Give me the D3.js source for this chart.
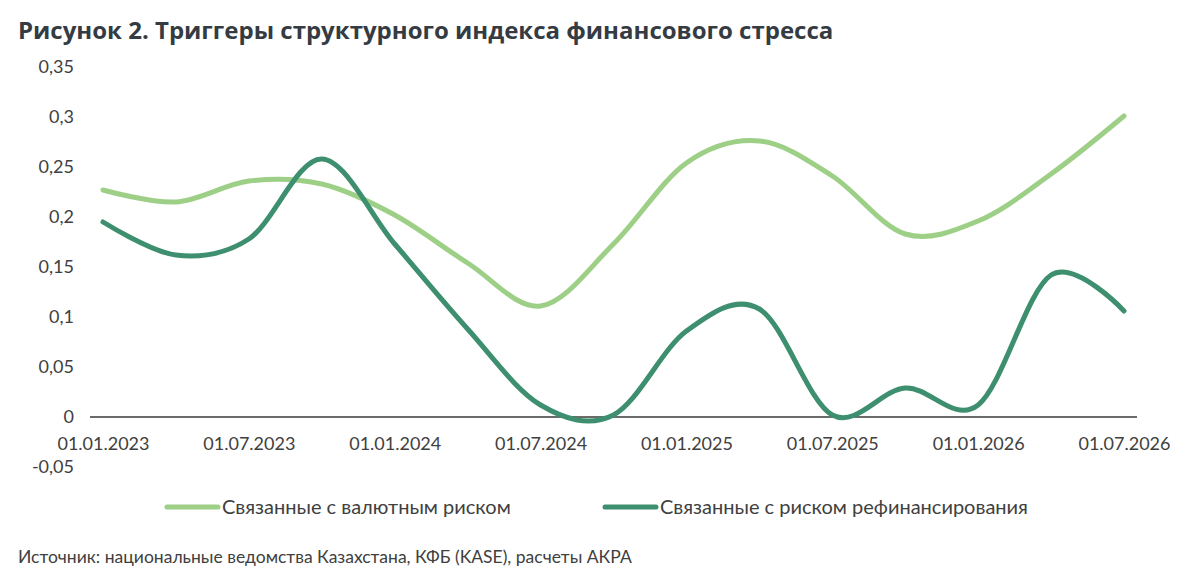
<!DOCTYPE html>
<html lang="ru">
<head>
<meta charset="utf-8">
<title>Рисунок 2</title>
<script src="https://d3js.org/d3.v7.min.js"></script>
<style>
  body { margin: 0; background: #fff; }
  text { font-family: Lato, "Open Sans", sans-serif; fill: #404040; }
  .title { font-family: "Open Sans", sans-serif; font-weight: 700; fill: #353b42; }
  .axis path, .axis line { display: none; }
  .series { fill: none; stroke-width: 5px; stroke-linecap: round; }
</style>
</head>
<body>
<div id="chart"></div>
<script>
// quarterly points, 01.01.2023 .. 01.07.2026
var dates = ["01.01.2023","01.04.2023","01.07.2023","01.10.2023","01.01.2024","01.04.2024","01.07.2024","01.10.2024",
             "01.01.2025","01.04.2025","01.07.2025","01.10.2025","01.01.2026","01.04.2026","01.07.2026"];
var currencyRisk = [0.227,0.215,0.236,0.233,0.202,0.154,0.111,0.173,0.254,0.276,0.241,0.183,0.196,0.243,0.301];
var refinancingRisk = [0.195,0.162,0.178,0.258,0.173,0.088,0.012,0.002,0.086,0.108,0.002,0.029,0.012,0.142,0.106];
var yTicks = [-0.05,0,0.05,0.1,0.15,0.2,0.25,0.3,0.35];
var seriesNames = ["Связанные с валютным риском","Связанные с риском рефинансирования"];
var colors = ["#9dd086","#3e8f6f"];

var width = 1200, height = 585;
var svg = d3.select("#chart").append("svg")
    .attr("width", width)
    .attr("height", height);

svg.append("text").attr("class","title")
    .attr("x", 18).attr("y", 39)
    .style("font-size", "24px")
    .text("Рисунок 2. Триггеры структурного индекса финансового стресса");

var x = d3.scaleLinear().domain([0, dates.length - 1]).range([103, 1124]);
var y = d3.scaleLinear().domain([-0.05, 0.35]).range([467, 67]);
var fmt = function(d){ return String(+d.toFixed(2)).replace(".", ","); };

// y labels
svg.append("g").attr("class","axis")
    .attr("transform","translate(74,0)")
    .call(d3.axisLeft(y).tickValues(yTicks).tickSize(0).tickPadding(0).tickFormat(fmt))
    .selectAll("text").style("font-size","18px").attr("fill","#404040");

// zero line
svg.append("line")
    .attr("x1", 90).attr("x2", 1137)
    .attr("y1", y(0)).attr("y2", y(0))
    .attr("stroke", "#3a3a3a").attr("stroke-width", 1.5);

// x labels on every second quarter
svg.append("g").attr("class","axis")
    .attr("transform","translate(0," + (y(0) + 20) + ")")
    .call(d3.axisBottom(x).tickValues(d3.range(0, dates.length, 2)).tickSize(0).tickPadding(0)
        .tickFormat(function(i){ return dates[i]; }))
    .selectAll("text").style("font-size","18px").attr("fill","#404040");

var line = d3.line()
    .x(function(d, i){ return x(i); })
    .y(function(d){ return y(d); })
    .curve(d3.curveCardinal.tension(0));

[currencyRisk, refinancingRisk].forEach(function(s, k){
  svg.append("path").attr("class","series")
      .attr("d", line(s))
      .attr("stroke", colors[k]);
});

// legend
var legendX = [167, 605];
var lg = svg.selectAll(".legend").data(seriesNames).enter().append("g")
    .attr("class","legend")
    .attr("transform", function(d, i){ return "translate(" + legendX[i] + ",507)"; });
lg.append("line").attr("x1",0).attr("x2",51).attr("y1",0).attr("y2",0)
    .attr("stroke", function(d, i){ return colors[i]; })
    .attr("stroke-width",5).attr("stroke-linecap","round");
lg.append("text").attr("x",55).attr("dy","0.35em")
    .style("font-size","20px")
    .text(function(d){ return d; });

svg.append("text")
    .attr("x", 18).attr("y", 563)
    .style("font-size","17.5px")
    .text("Источник: национальные ведомства Казахстана, КФБ (KASE), расчеты АКРА");
</script>
</body>
</html>
